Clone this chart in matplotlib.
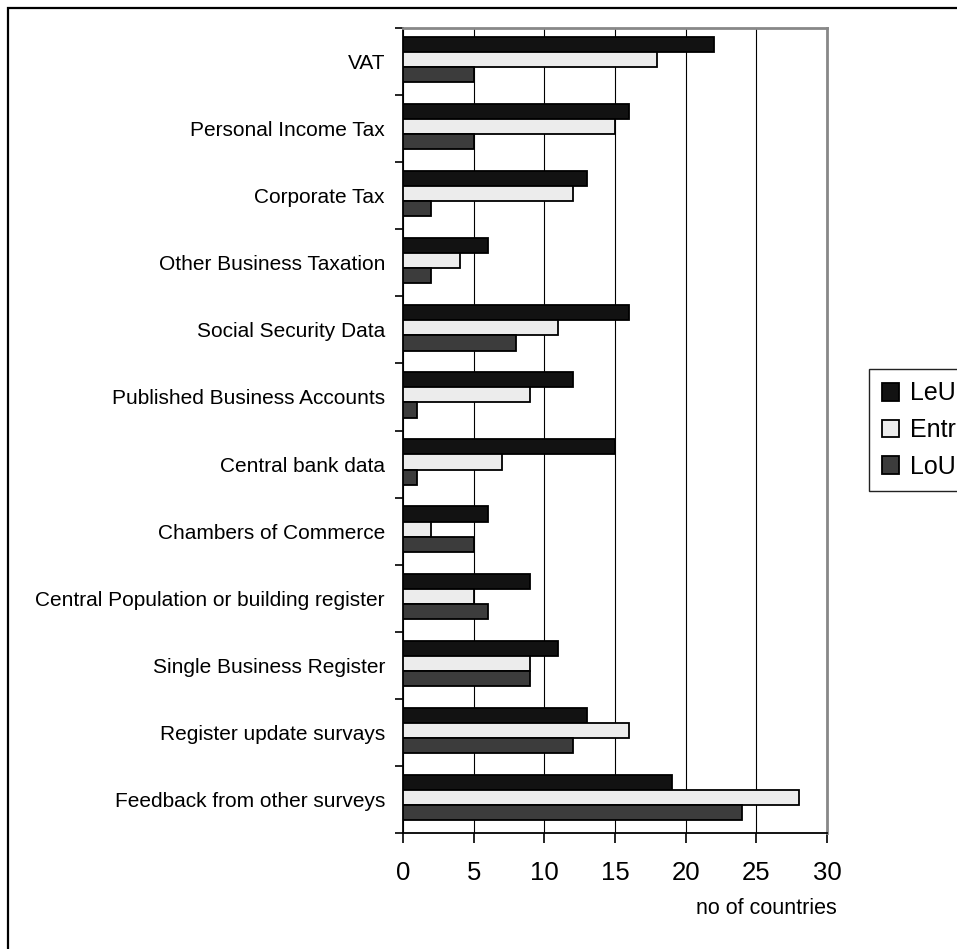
import matplotlib.pyplot as plt
import numpy as np
from matplotlib.patches import Rectangle, Patch

plt.rcParams['font.family'] = ['Liberation Sans', 'DejaVu Sans']

categories = ["VAT", "Personal Income Tax", "Corporate Tax", "Other Business Taxation",
              "Social Security Data", "Published Business Accounts", "Central bank data",
              "Chambers of Commerce", "Central Population or building register",
              "Single Business Register", "Register update survays",
              "Feedback from other surveys"]
leu = [22, 16, 13, 6, 16, 12, 15, 6, 9, 11, 13, 19]
entr = [18, 15, 12, 4, 11, 9, 7, 2, 5, 9, 16, 28]
lou = [5, 5, 2, 2, 8, 1, 1, 5, 6, 9, 12, 24]
series_names = ["LeU", "Entr", "LoU"]
colors = ["#121212", "#ececec", "#3c3c3c"]
xticks = [0, 5, 10, 15, 20, 25, 30]

W, H = 957, 949
fig = plt.figure(figsize=(W / 100, H / 100), dpi=100)
ax = fig.add_axes([403 / W, 1 - 833 / H, 424 / W, 805 / H])

# outer frame (runs off right and bottom edges)
fig.patches.append(Rectangle((8 / W, -0.1), 1.2, 1 - 8 / H + 0.1, transform=fig.transFigure,
                             fill=False, edgecolor="black", linewidth=1.6))

y = np.arange(len(categories)) + 0.47
h = 0.225
for k, vals in enumerate([leu, entr, lou]):
    ax.barh(y + (k - 1) * h, vals, height=h, color=colors[k], edgecolor="black",
            linewidth=1.3, zorder=3)

ax.set_xlim(0, 30)
ax.set_ylim(len(categories), 0)
ax.set_xticks(xticks)
ax.set_xticklabels([str(t) for t in xticks], fontsize=18.5)
ax.tick_params(axis='x', direction='out', length=7, width=1.2, pad=13)
ax.xaxis.grid(True, color="black", linewidth=0.8, zorder=0)

ax.set_yticks(np.arange(len(categories) + 1))
ax.set_yticklabels([])
ax.set_yticks(np.arange(len(categories)) + 0.5, minor=True)
ax.set_yticklabels(categories, minor=True, fontsize=15)
ax.tick_params(axis='y', which='major', direction='out', length=6, width=1.2)
ax.tick_params(axis='y', which='minor', length=0, pad=13)

for s in ["top", "right"]:
    ax.spines[s].set_color("#888888")
    ax.spines[s].set_linewidth(2)
for s in ["left", "bottom"]:
    ax.spines[s].set_color("black")
    ax.spines[s].set_linewidth(1.3)

fig.text(837 / W, 1 - 908 / H, "no of countries", ha="right", va="center", fontsize=15.5)

handles = [Patch(facecolor=colors[k], edgecolor="black", linewidth=1.3) for k in range(3)]
fig.legend(handles, series_names, loc="upper left", bbox_to_anchor=(869 / W, 1 - 369 / H),
           fontsize=18, frameon=True, fancybox=False, edgecolor="#222222", framealpha=1,
           handlelength=0.7, handleheight=0.7, handletextpad=0.45,
           labelspacing=0.5, borderpad=0.5, borderaxespad=0)

fig.savefig("out.png", dpi=100)
